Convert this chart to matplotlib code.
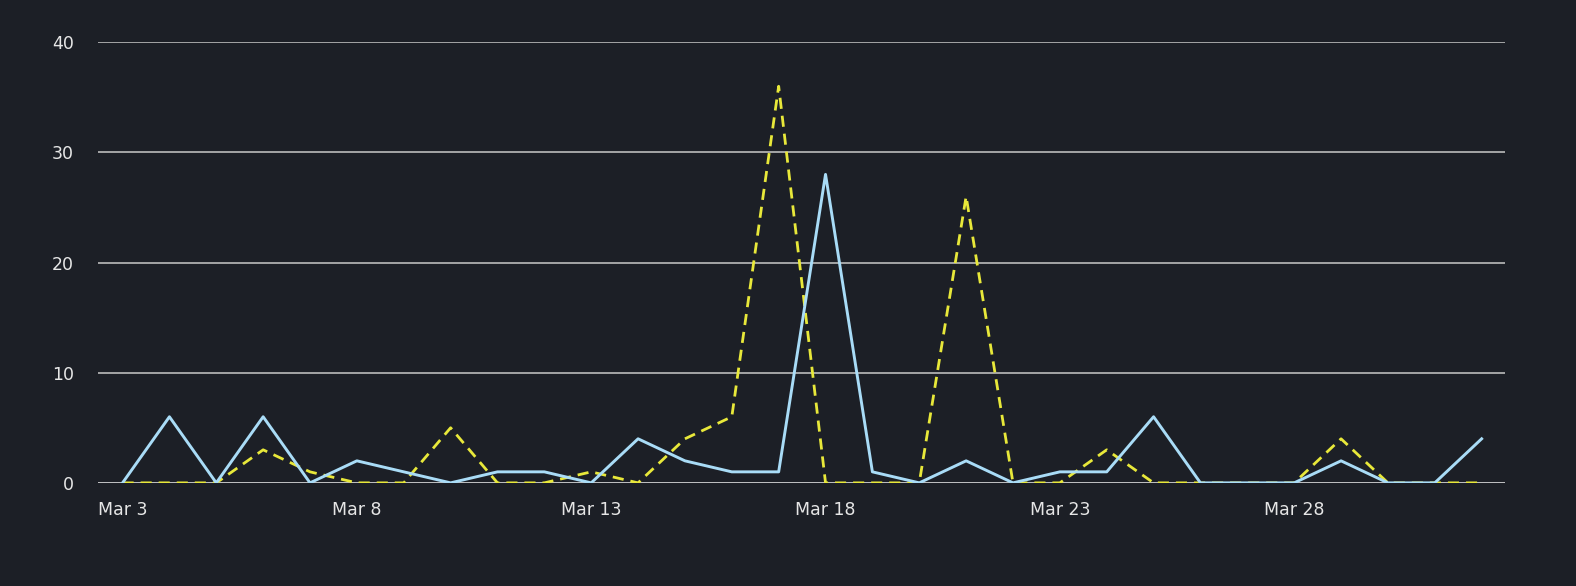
import matplotlib
matplotlib.use("Agg")
import matplotlib.pyplot as plt
import numpy as np

# daily values, Mar 3 .. Apr 1
dates = ["Mar 3", "Mar 4", "Mar 5", "Mar 6", "Mar 7", "Mar 8", "Mar 9", "Mar 10",
         "Mar 11", "Mar 12", "Mar 13", "Mar 14", "Mar 15", "Mar 16", "Mar 17",
         "Mar 18", "Mar 19", "Mar 20", "Mar 21", "Mar 22", "Mar 23", "Mar 24",
         "Mar 25", "Mar 26", "Mar 27", "Mar 28", "Mar 29", "Mar 30", "Mar 31", "Apr 1"]
blue = [0, 6, 0, 6, 0, 2, 1, 0, 1, 1, 0, 4, 2, 1, 1,
        28, 1, 0, 2, 0, 1, 1, 6, 0, 0, 0, 2, 0, 0, 4]
yellow = [0, 0, 0, 3, 1, 0, 0, 5, 0, 0, 1, 0, 4, 6, 36,
          0, 0, 0, 26, 0, 0, 3, 0, 0, 0, 0, 4, 0, 0, 0]
yticks = [0, 10, 20, 30, 40]

bg = "#1c1f26"
x = np.arange(len(dates))

fig = plt.figure(figsize=(15.76, 5.86), dpi=100, facecolor=bg)
ax = fig.add_axes([0.062, 0.176, 0.893, 0.752])
ax.set_facecolor(bg)

for y in yticks[1:]:
    ax.axhline(y, color="#c9c9c9", linewidth=1.1, zorder=1)
ax.axhline(0, color="#f2f2f2", linewidth=1.8, zorder=1)

ax.plot(x, yellow, color="#e8e83a", linewidth=2.0, linestyle=(0, (4, 2.5)), zorder=3)
ax.plot(x, blue, color="#a9dcf7", linewidth=2.1, zorder=4)

ax.set_xlim(-0.53, 29.5)
ax.set_ylim(0, 40)
ax.set_yticks(yticks)
ax.set_xticks(x[::5])
ax.set_xticklabels(dates[::5])
ax.tick_params(axis="both", length=0, colors="#e6e6e6", labelsize=12.5)
ax.tick_params(axis="y", pad=17)
ax.tick_params(axis="x", pad=13)
for s in ax.spines.values():
    s.set_visible(False)

fig.savefig("out.png", dpi=100, facecolor=bg)
